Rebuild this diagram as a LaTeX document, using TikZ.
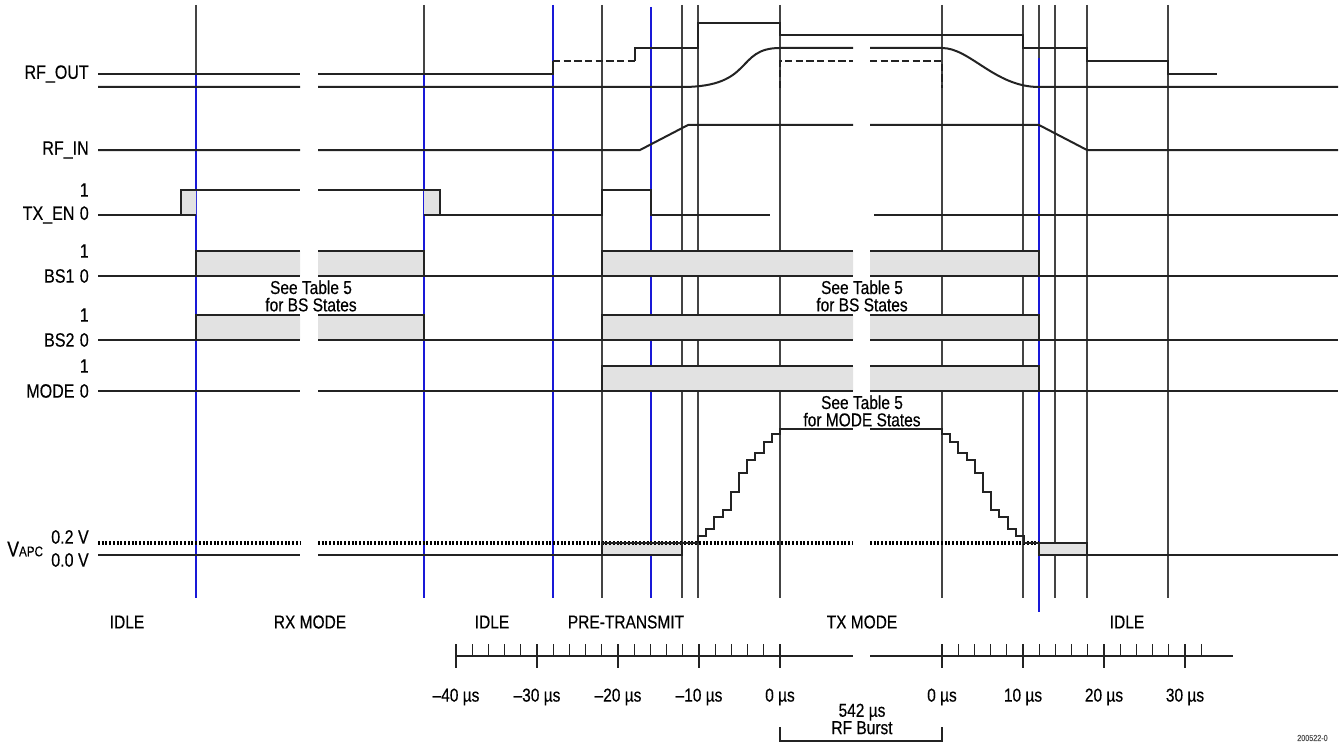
\documentclass[tikz,border=0pt]{standalone}
\usepackage{fontspec}
\setmainfont{Liberation Sans}[FakeStretch=0.83, FakeBold=0.35]
\usepackage{tikz}
\usetikzlibrary{positioning}
\definecolor{sigcol}{RGB}{35,35,35}
\definecolor{markblue}{RGB}{25,25,215}
\definecolor{shadecol}{RGB}{226,226,226}
\tikzset{
  sig/.style={line width=1.5pt, sigcol},
  vline/.style={line width=1.1pt, sigcol!85},
  bline/.style={line width=1.1pt, markblue},
  dashsig/.style={line width=2pt, sigcol, dash pattern=on 5.5pt off 2.5pt},
  dotsig/.style={line width=2.6pt, black, dash pattern=on 1.5pt off 1.3pt},
  lbl/.style={anchor=east, inner sep=0pt, font=\fontsize{14.5}{15}\selectfont},
  note/.style={align=center, inner sep=0pt, font=\fontsize{14}{13}\selectfont},
  tickln/.style={line width=1pt, sigcol},
}
\newcommand{\bsrow}[2]{%
  \fill[shadecol] (196,#1) rectangle (300,#2) (318,#1) rectangle (424,#2)
    (602,#1) rectangle (853,#2) (870,#1) rectangle (1039,#2);
  \draw[sig] (98,#2) -- (300,#2) (318,#2) -- (853,#2) (870,#2) -- (1338,#2);
  \draw[sig] (196,#2) -- (196,#1) -- (300,#1) (318,#1) -- (424,#1) -- (424,#2);
  \draw[sig] (602,#2) -- (602,#1) -- (853,#1) (870,#1) -- (1039,#1) -- (1039,#2);
}

\begin{document}
\begin{tikzpicture}[x=0.75pt, y=-0.75pt]
  \useasboundingbox (0,0) rectangle (1343,742);

  \foreach \x in {602,682,698,780,942,1023,1055,1087,1168}
    \draw[vline] (\x,5) -- (\x,598);
  \foreach \x in {196,424} {
    \draw[vline] (\x,5) -- (\x,74);
    \draw[bline] (\x,74) -- (\x,598);
  }
  \draw[bline] (553,5) -- (553,598);
  \draw[bline] (651,7) -- (651,598);
  \draw[vline] (1039,5) -- (1039,58);
  \draw[bline] (1039,58) -- (1039,612);

  % RF_OUT
  \node[lbl] (rfout) at (89,74) {RF\_OUT};
  \draw[sig] (98,74) -- (300,74) (318,74) -- (553,74) -- (553,61);
  \draw[dashsig] (553,61) -- (635,61);
  \draw[sig] (635,61) -- (635,48) -- (698,48) -- (698,23) -- (780,23) -- (780,35)
    -- (1023,35) -- (1023,48) -- (1087,48) -- (1087,61) -- (1168,61) -- (1168,74) -- (1217,74);
  \draw[sig] (98,87) -- (300,87) (318,87) -- (682,87)
    .. controls (755,87) and (735,48) .. (780,48) -- (853,48);
  \draw[sig] (870,48) -- (942,48) .. controls (970,48) and (995,87) .. (1039,87) -- (1338,87);
  \draw[dashsig] (780,88) -- (780,61) -- (853,61) (870,61) -- (942,61) -- (942,88);

  % RF_IN
  \node[lbl] (rfin) at (89,150) {RF\_IN};
  \draw[sig] (98,150) -- (300,150) (318,150) -- (640,150) -- (688,125) -- (853,125);
  \draw[sig] (870,125) -- (1039,125) -- (1087,150) -- (1338,150);

  % TX_EN
  \node[lbl] (txen1) at (89,190) {1};
  \node[lbl] (txen0) at (89,215) {TX\_EN\hspace{4pt}0};
  \fill[shadecol] (181,190) rectangle (196,215) (424,190) rectangle (440,215);
  \draw[sig] (98,215) -- (196,215) (181,215) -- (181,190) -- (300,190);
  \draw[sig] (318,190) -- (440,190) -- (440,215) -- (602,215) -- (602,190) -- (651,190)
    -- (651,215) -- (770,215) (874,215) -- (1338,215) (424,215) -- (440,215);

  % BS1, BS2
  \node[lbl] (bsa1) at (89,251) {1};
  \node[lbl] (bsa0) at (89,276) {BS1\hspace{4pt}0};
  \bsrow{251}{276}
  \node[lbl] (bsb1) at (89,315) {1};
  \node[lbl] (bsb0) at (89,340) {BS2\hspace{4pt}0};
  \bsrow{315}{340}
  \node[note] (bsleft) at (311,296) {See Table 5\\for BS States};
  \node[note] (bsright) at (862,296) {See Table 5\\for BS States};

  % MODE
  \node[lbl] (mode1) at (89,366) {1};
  \node[lbl] (mode0) at (89,391) {MODE\hspace{4pt}0};
  \fill[shadecol] (602,366) rectangle (853,391) (870,366) rectangle (1039,391);
  \draw[sig] (98,391) -- (300,391) (318,391) -- (853,391) (870,391) -- (1338,391);
  \draw[sig] (602,391) -- (602,366) -- (853,366) (870,366) -- (1039,366) -- (1039,391);
  \node[note] (modenote) at (862,411) {See Table 5\\for MODE States};

  % VAPC
  \node[anchor=west, inner sep=0pt, font=\fontsize{16}{16}\selectfont] (vapc) at (7,549)
    {V{\fontsize{10.5}{10}\selectfont APC}};
  \node[lbl] (vhi) at (89,537) {0.2 V};
  \node[lbl] (vlo) at (89,560) {0.0 V};
  \fill[shadecol] (602,543) rectangle (682,555) (1039,543) rectangle (1087,555);
  \draw[dotsig] (98,543) -- (300,543) (318,543) -- (853,543) (870,543) -- (1039,543);
  \draw[sig] (98,555) -- (300,555) (318,555) -- (602,555) -- (602,543) -- (682,543)
    (602,555) -- (682,555) -- (682,543) -- (698,543);
  \draw[sig] (698,543)
    \foreach \lv [count=\j from 0] in {536,529,517,510,492,473,460,453,442,434,429}
      { -- ({698+8.2*\j},\lv) -- ({706.2+8.2*\j},\lv) } -- (853,429);
  \draw[sig] (870,429) -- (942,429)
    \foreach \lv [count=\j from 0] in {434,442,453,460,473,492,510,517,529,536,543}
      { -- ({942+8.2*\j},\lv) -- ({950.2+8.2*\j},\lv) } -- (1039,543);
  \draw[sig] (1039,543) -- (1087,543) -- (1087,555) (1039,543) -- (1039,555) -- (1338,555);

  % phases
  \foreach \x/\txt [count=\i] in {127/IDLE, 310/RX MODE, 492/IDLE, 626/PRE-TRANSMIT,
      862/TX MODE, 1127/IDLE}
    \node[note] (ph\i) at (\x,622) {\txt};

  % time axis
  \draw[tickln] (456,656) -- (853,656) (870,656) -- (1233,656);
  \foreach \i in {0,...,20}
    \draw[tickln] ({456+16.2*\i},644) -- ({456+16.2*\i},656);
  \foreach \i in {0,...,16}
    \draw[tickln] ({942+16.2*\i},644) -- ({942+16.2*\i},656);
  \foreach \x/\txt [count=\i] in {456/{–40 µs}, 537/{–30 µs}, 618/{–20 µs},
      699/{–10 µs}, 780/{0 µs}} {
    \draw[tickln] (\x,644) -- (\x,668);
    \node[note] (tl\i) at (\x,697) {\txt};
  }
  \foreach \x/\txt [count=\i] in {942/{0 µs}, 1023/{10 µs}, 1104/{20 µs}, 1185/{30 µs}} {
    \draw[tickln] (\x,644) -- (\x,668);
    \node[note] (tr\i) at (\x,697) {\txt};
  }
  \node[note] (burst) at (862,719) {542 µs\\RF Burst};
  \draw[tickln] (780,727) -- (780,741) -- (942,741) -- (942,727);
  \node[anchor=west, inner sep=0pt, font=\fontsize{6.5}{6}\selectfont, sigcol!80] (fignum)
    at (1297,738) {200522-0};
\end{tikzpicture}
\end{document}
